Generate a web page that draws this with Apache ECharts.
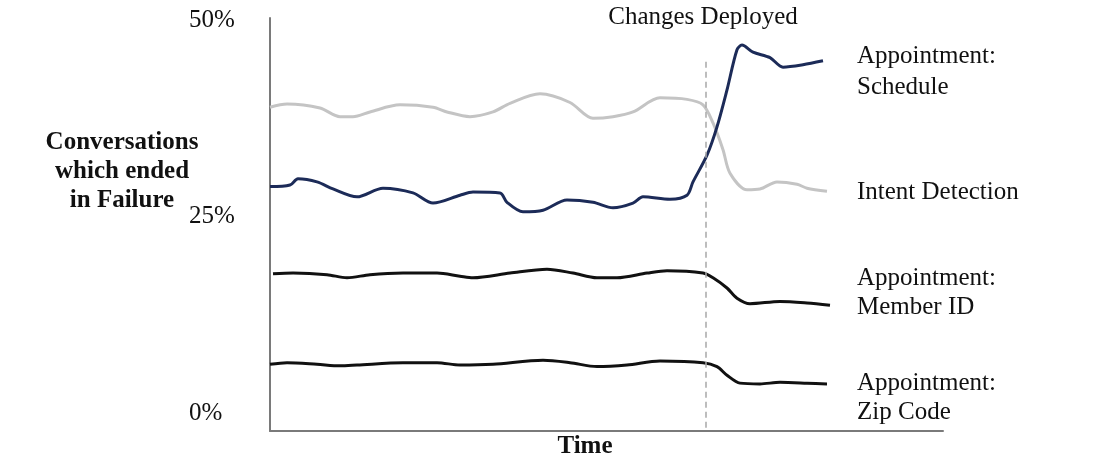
<!DOCTYPE html>
<html>
<head>
<meta charset="utf-8">
<script src="https://cdn.jsdelivr.net/npm/echarts@6/dist/echarts.min.js"></script>
<style>html,body{margin:0;padding:0;background:#fff}#c{width:1100px;height:466px}</style>
</head>
<body>
<div id="c"></div>
<script>
// Time positions (arbitrary time units) and failure rates (%)
const intentT = [0,17,50,70,83,100,130,163,177,200,223,240,270,300,323,343,363,390,417,433,443,453,460,477,490,507,527,537,557];
const intentV = [38.9,39.3,38.8,37.7,37.7,38.3,39.2,38.9,38.3,37.7,38.3,39.4,40.6,39.5,37.5,37.7,38.3,40.1,39.9,39.2,36.9,33.5,30.5,28.4,28.5,29.4,29.1,28.6,28.2];

const scheduleT = [0,20,28,47,63,87,113,143,163,190,203,230,237,253,273,297,323,343,363,373,400,417,423,437,447,457,467,472,483,500,513,533,553];
const scheduleV = [28.8,29.0,29.8,29.4,28.5,27.5,28.6,28.0,26.7,27.7,28.1,28.0,26.8,25.6,25.8,27.1,26.8,26.1,26.7,27.5,27.2,27.7,29.4,32.8,36.4,41.1,46.2,46.8,45.9,45.2,44.0,44.3,44.8];

const memberT = [3,23,57,77,100,133,167,190,203,240,277,303,327,347,377,397,433,443,457,467,480,510,537,560];
const memberV = [17.7,17.8,17.6,17.2,17.6,17.8,17.8,17.4,17.2,17.8,18.3,17.8,17.2,17.2,17.8,18.1,17.8,17.2,15.9,14.6,13.9,14.2,14.0,13.7];

const zipT = [0,17,47,70,87,133,167,190,223,273,300,327,357,390,433,447,457,470,490,510,537,557];
const zipV = [6.2,6.4,6.2,6.0,6.1,6.4,6.4,6.1,6.2,6.7,6.4,5.9,6.1,6.6,6.4,5.9,4.8,3.8,3.7,3.9,3.8,3.7];

const deployT = 436;
const deployTop = 44.7;
const yTicks = [0, 25, 50];

const seriesNames = ['Appointment:\nSchedule', 'Intent Detection', 'Appointment:\nMember ID', 'Appointment:\nZip Code'];

function zip(ts, vs) { return ts.map((t, i) => [t, vs[i]]); }

const FONT = '"Liberation Serif", "Times New Roman", serif';
const TXT = '#111';
const chart = echarts.init(document.getElementById('c'), null, {renderer: 'canvas'});

const yMin = -2.29, yMax = 50.25;

chart.setOption({
  animation: false,
  backgroundColor: '#fff',
  grid: {left: 270, right: 157, top: 18, bottom: 35, containLabel: false},
  xAxis: {
    type: 'value', min: 0, max: 673,
    axisLine: {show: true, onZero: false, lineStyle: {color: '#7a7a7a', width: 2}},
    axisTick: {show: false}, axisLabel: {show: false}, splitLine: {show: false}
  },
  yAxis: {
    type: 'value', min: yMin, max: yMax,
    axisLine: {show: true, lineStyle: {color: '#7a7a7a', width: 2}},
    axisTick: {show: false},
    splitLine: {show: false},
    axisLabel: {
      show: true, customValues: yTicks, formatter: '{value}%',
      align: 'left', margin: 81,
      fontFamily: FONT, fontSize: 25, color: TXT
    }
  },
  series: [
    {
      name: seriesNames[1], type: 'line', data: zip(intentT, intentV),
      smooth: 0.3, showSymbol: false, symbol: 'none',
      lineStyle: {color: '#c4c4c4', width: 3}, z: 2,
      markLine: {
        silent: true, symbol: 'none',
        lineStyle: {color: '#a8a8a8', width: 1.5, type: [6, 4]},
        label: {show: false},
        data: [[{coord: [deployT, deployTop]}, {coord: [deployT, yMin]}]]
      }
    },
    {
      name: seriesNames[0], type: 'line', data: zip(scheduleT, scheduleV),
      smooth: 0.3, showSymbol: false, symbol: 'none',
      lineStyle: {color: '#1c2b58', width: 3}, z: 3
    },
    {
      name: seriesNames[2], type: 'line', data: zip(memberT, memberV),
      smooth: 0.3, showSymbol: false, symbol: 'none',
      lineStyle: {color: '#111', width: 3}, z: 3
    },
    {
      name: seriesNames[3], type: 'line', data: zip(zipT, zipV),
      smooth: 0.3, showSymbol: false, symbol: 'none',
      lineStyle: {color: '#111', width: 3}, z: 3
    }
  ],
  graphic: [
    {type: 'text', x: 703, y: 17, style: {text: 'Changes Deployed', font: '25px ' + FONT, fill: TXT, align: 'center', verticalAlign: 'middle'}},
    {type: 'text', x: 122, y: 172, style: {text: 'Conversations\nwhich ended\nin Failure', font: 'bold 25px ' + FONT, fill: TXT, align: 'center', verticalAlign: 'middle', lineHeight: 29}},
    {type: 'text', x: 585, y: 447, style: {text: 'Time', font: 'bold 25px ' + FONT, fill: TXT, align: 'center', verticalAlign: 'middle'}},
    {type: 'text', x: 857, y: 72, style: {text: seriesNames[0], font: '25px ' + FONT, fill: TXT, align: 'left', verticalAlign: 'middle', lineHeight: 31}},
    {type: 'text', x: 857, y: 192, style: {text: seriesNames[1], font: '25px ' + FONT, fill: TXT, align: 'left', verticalAlign: 'middle'}},
    {type: 'text', x: 857, y: 293, style: {text: seriesNames[2], font: '25px ' + FONT, fill: TXT, align: 'left', verticalAlign: 'middle', lineHeight: 29}},
    {type: 'text', x: 857, y: 398, style: {text: seriesNames[3], font: '25px ' + FONT, fill: TXT, align: 'left', verticalAlign: 'middle', lineHeight: 29}}
  ]
});
</script>
</body>
</html>
